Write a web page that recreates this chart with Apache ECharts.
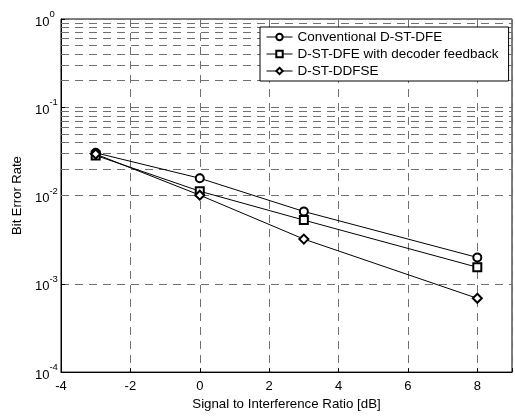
<!DOCTYPE html>
<html>
<head>
<meta charset="utf-8">
<script src="https://cdn.jsdelivr.net/npm/echarts@6/dist/echarts.min.js"></script>
<style>
  html, body { margin: 0; padding: 0; background: #fff; }
  #chart { width: 515px; height: 416px; }
</style>
</head>
<body>
<div id="chart"></div>
<script>
// SIR points, dB
const sir = [-3, 0, 3, 8]

// BER per receiver
const berConventional = [3.05e-2, 1.57e-2, 6.6e-3, 1.99e-3]
const berDecoderFb = [2.85e-2, 1.12e-2, 5.27e-3, 1.54e-3]
const berDdfse = [2.95e-2, 1.01e-2, 3.21e-3, 6.85e-4]

const seriesNames = ['Conventional D-ST-DFE', 'D-ST-DFE with decoder feedback', 'D-ST-DDFSE']

// minor grid lines of the log axis (2..9 x 10^k)
const minorTicks = []
for (const d of [1e-4, 1e-3, 1e-2, 1e-1]) {
  for (const m of [2, 3, 4, 5, 6, 7, 8, 9]) minorTicks.push(+(m * d).toPrecision(3))
}

const font = '"Liberation Sans", Arial, sans-serif'
const gridLine = { color: '#707070', width: 1, type: [8, 6] }

function pairs(ys) {
  return sir.map((x, i) => [x, ys[i]])
}

function lineSeries(name, symbol, size, ys) {
  return {
    name,
    type: 'line',
    data: pairs(ys),
    symbol,
    symbolSize: size,
    showAllSymbol: true,
    lineStyle: { color: '#000', width: 1 },
    itemStyle: { color: '#000', borderColor: '#000', borderWidth: 1 },
    emphasis: { disabled: true },
    z: 5,
  }
}

const chart = echarts.init(document.getElementById('chart'), null, { renderer: 'canvas' })

chart.setOption({
  backgroundColor: '#fff',
  animation: false,
  textStyle: { fontFamily: font },
  grid: {
    left: 61, top: 19, width: 457.6, height: 360,
    show: true, borderColor: '#000', borderWidth: 1, backgroundColor: 'transparent',
  },
  legend: {
    data: seriesNames,
    orient: 'vertical',
    left: 260, top: 27,
    z: 20,
    backgroundColor: '#fff',
    borderColor: '#000',
    borderWidth: 1,
    borderRadius: 0,
    padding: [3, 10, 3, 6],
    itemGap: 3,
    itemWidth: 26,
    itemHeight: 8,
    itemStyle: { borderWidth: 1 },
    lineStyle: { width: 1 },
    textStyle: { fontFamily: font, fontSize: 13.5, color: '#000' },
  },
  xAxis: {
    type: 'value',
    min: -4, max: 9, interval: 2,
    name: 'Signal to Interference Ratio [dB]',
    nameLocation: 'middle',
    nameGap: 24,
    nameTextStyle: { fontFamily: font, fontSize: 13.3, color: '#000' },
    axisLine: { show: true, onZero: false, lineStyle: { color: '#000', width: 1 } },
    axisTick: { show: true, inside: true, length: 4, lineStyle: { color: '#000' } },
    axisLabel: {
      color: '#000', fontFamily: font, fontSize: 13, margin: 8,
      formatter: v => (v > 8 ? '' : String(v)),
    },
    splitLine: { show: true, lineStyle: gridLine },
  },
  yAxis: {
    type: 'log',
    logBase: 10,
    min: 1e-4, max: 1,
    name: 'Bit Error Rate',
    nameLocation: 'middle',
    nameGap: 33,
    nameTextStyle: { fontFamily: font, fontSize: 13, color: '#000' },
    axisLine: { show: true, onZero: false, lineStyle: { color: '#000', width: 1 } },
    axisTick: { show: true, inside: true, length: 4, lineStyle: { color: '#000' } },
    axisLabel: {
      color: '#000', margin: 26, align: 'left',
      formatter: v => '{b|10}{s|' + Math.round(Math.log10(v)) + '}',
      rich: {
        b: { fontFamily: font, fontSize: 13, color: '#000', padding: [6, 0, 0, 0] },
        s: { fontFamily: font, fontSize: 9.5, color: '#000', verticalAlign: 'top' },
      },
    },
    splitLine: { show: true, lineStyle: gridLine },
  },
  series: [
    {
      name: 'minor-grid',
      type: 'line',
      data: [],
      silent: true,
      z: 1,
      markLine: {
        silent: true,
        symbol: 'none',
        label: { show: false },
        lineStyle: gridLine,
        emphasis: { disabled: true },
        data: minorTicks.map(v => ({ yAxis: v })),
      },
    },
    lineSeries(seriesNames[0], 'emptyCircle', 8, berConventional),
    lineSeries(seriesNames[1], 'emptyRect', 8, berDecoderFb),
    lineSeries(seriesNames[2], 'emptyDiamond', 9, berDdfse),
  ],
})
</script>
</body>
</html>
